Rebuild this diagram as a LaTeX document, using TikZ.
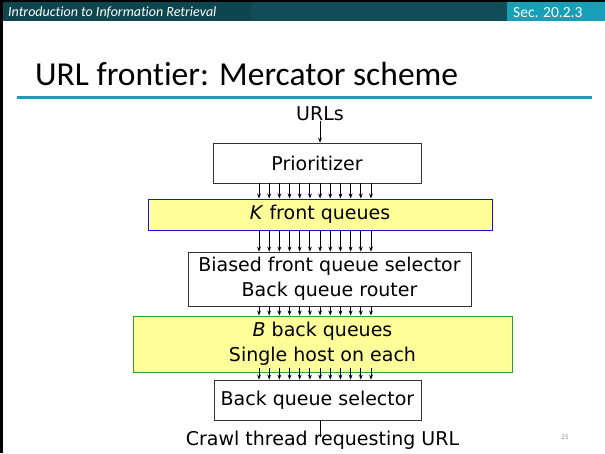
\documentclass[tikz,border=0pt]{standalone}
\usepackage{fontspec}
\setmainfont{Carlito}[Ligatures={NoCommon}]
\newfontfamily\diagfont{DejaVu Sans}
\usetikzlibrary{arrows.meta,calc}
\definecolor{hdrdark}{HTML}{0E4650}
\definecolor{hdrmid}{HTML}{124C57}
\definecolor{hdrlight}{HTML}{179FB8}
\definecolor{rule}{HTML}{1E9CB6}
\definecolor{qyellow}{HTML}{FFFF99}
\definecolor{qblue}{HTML}{1010F0}
\definecolor{qgreen}{HTML}{33A02C}
\tikzset{
  box/.style={draw=black!80, line width=0.8pt, fill=white, minimum width=#1, inner sep=0pt, align=center, font=\diagfont\fontsize{19}{24.5}\selectfont},
  arr/.style={-{Stealth[length=5pt,width=3.8pt]}, line width=0.9pt, black},
  lbl/.style={inner sep=0pt, font=\diagfont\fontsize{19}{24}\selectfont}
}
\begin{document}
\begin{tikzpicture}[x=1pt,y=-1pt]
\useasboundingbox (0,0) rectangle (605,453);
\fill[white] (0,0) rectangle (605,453);
% header
\fill[hdrdark] (0,0) rectangle (251,20.5);
\fill[hdrmid] (251,0) rectangle (507,20.5);
\fill[hdrlight] (507,0) rectangle (605,20.5);
\fill[black] (0,0) rectangle (605,2);
\fill[black] (0,0) rectangle (2.5,453);
\node[anchor=base west, text=white, inner sep=0pt, font=\itshape\fontsize{14}{16}\selectfont] (hdr) at (8,16.5) {Introduction to Information Retrieval};
\node[anchor=base west, text=white, inner sep=0pt, font=\fontsize{15.5}{18}\selectfont] (sec) at (513,17) {Sec. 20.2.3};
% title
\node[anchor=base west, inner sep=0pt, font=\fontsize{33.5}{38}\selectfont] (title) at (35,85) {URL frontier: Mercator scheme};
\draw[rule, line width=2.2pt] (17,97.5) -- (592,97.5);
% diagram
\node[lbl] (urls) at (320,114) {URLs};
\node[box=208pt, minimum height=40pt] (prio) at (317,163) {Prioritizer};
\node[box=344pt, minimum height=31pt, fill=qyellow, draw=qblue, line width=1pt] (kq) at (320,214.5) {\textit{K} front queues};
\node[box=283pt, minimum height=54pt] (bias) at (329.5,279) {Biased front queue selector\\Back queue router};
\node[box=379pt, minimum height=56pt, fill=qyellow, draw=qgreen, line width=1pt] (bq) at (322.5,344) {\textit{B} back queues\\Single host on each};
\node[box=207pt, minimum height=40pt] (bqs) at (317.5,400) {Back queue selector};
\node[lbl] (crawl) at (322.5,440) {Crawl thread requesting URL};
\node[inner sep=0pt, text=black!45, font=\fontsize{7}{8}\selectfont] (pg) at (565,437.5) {25};
\draw[arr] (urls.south -| prio.north) ++(3,0) coordinate (u0) -- (u0 |- prio.north);
\foreach \i in {0,...,11} {
  \pgfmathsetmacro{\dx}{-56+\i*10.18}
  \draw[arr] ($(prio.south)+(\dx-2,0)$) coordinate (a\i) -- (a\i |- kq.north);
  \draw[arr] ($(kq.south)+(\dx-5,0)$) coordinate (b\i) -- (b\i |- bias.north);
  \draw[arr] ($(bias.south)+(\dx-14.5,0)$) coordinate (c\i) -- (c\i |- bq.north);
  \draw[arr] ($(bq.south)+(\dx-7.5,-5)$) coordinate (d\i) -- (d\i |- bqs.north);
}
\draw[line width=0.9pt] ($(bqs.south)+(2.5,0)$) coordinate (e0) -- ($(e0)+(0,17)$);
\end{tikzpicture}
\end{document}
